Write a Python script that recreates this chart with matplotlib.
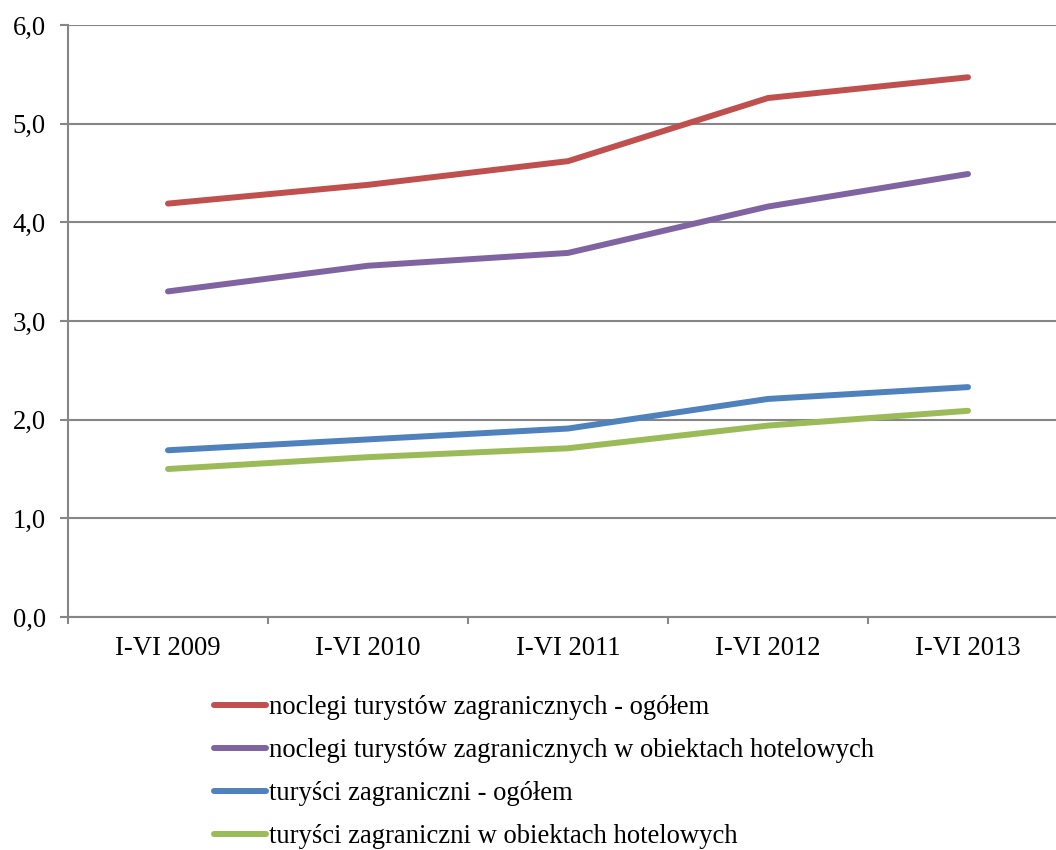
import matplotlib
matplotlib.use("Agg")
import matplotlib.pyplot as plt
from matplotlib.ticker import FixedLocator, FuncFormatter

categories = ["I-VI 2009", "I-VI 2010", "I-VI 2011", "I-VI 2012", "I-VI 2013"]
noclegi_ogolem = [4.19, 4.38, 4.62, 5.26, 5.47]
noclegi_hotelowe = [3.30, 3.56, 3.69, 4.16, 4.49]
turysci_ogolem = [1.69, 1.80, 1.91, 2.21, 2.33]
turysci_hotelowe = [1.50, 1.62, 1.71, 1.94, 2.09]
series_labels = [
    "noclegi turystów zagranicznych - ogółem",
    "noclegi turystów zagranicznych w obiektach hotelowych",
    "turyści zagraniczni - ogółem",
    "turyści zagraniczni w obiektach hotelowych",
]
colors = ["#C0504D", "#8064A2", "#4F81BD", "#9BBB59"]

plt.rcParams["font.family"] = ["Liberation Serif", "DejaVu Serif"]

W, H = 1056, 850
fig = plt.figure(figsize=(W / 100, H / 100), dpi=100)
ax = fig.add_axes([68 / W, 1 - 617 / H, 1000 / W, 592 / H])

grid_c = "#868686"
FS = 19.2
x = list(range(len(categories)))
for vals, lab, c in zip([noclegi_ogolem, noclegi_hotelowe, turysci_ogolem, turysci_hotelowe],
                        series_labels, colors):
    ax.plot(x, vals, color=c, lw=4.3, label=lab, solid_capstyle="round", zorder=3)

ax.set_xlim(-0.5, len(categories) - 0.5)
ax.set_ylim(0, 6)
ax.yaxis.set_major_locator(FixedLocator([0, 1, 2, 3, 4, 5, 6]))
ax.yaxis.set_major_formatter(FuncFormatter(lambda v, p: f"{v:.1f}".replace(".", ",")))
ax.yaxis.grid(True, color=grid_c, lw=1.5)
ax.set_axisbelow(True)

ax.xaxis.set_major_locator(FixedLocator([i - 0.5 for i in range(len(categories) + 1)]))
ax.xaxis.set_major_formatter(FuncFormatter(lambda v, p: ""))
ax.xaxis.set_minor_locator(FixedLocator(x))
ax.set_xticklabels(categories, minor=True)

for s in ["top", "right"]:
    ax.spines[s].set_visible(False)
for s in ["left", "bottom"]:
    ax.spines[s].set_color(grid_c)
    ax.spines[s].set_linewidth(1.5)

ax.tick_params(axis="y", which="major", length=6, width=1.5, color=grid_c, pad=10, labelsize=FS)
ax.tick_params(axis="x", which="major", length=5, width=1.5, color=grid_c, direction="out")
ax.tick_params(axis="x", which="minor", length=0, pad=14, labelsize=FS)

fig.legend(loc="upper left", bbox_to_anchor=(214 / W, 1 - 695 / H), frameon=False,
           fontsize=FS, handlelength=1.95, handletextpad=0.1, labelspacing=0.68,
           borderaxespad=0, borderpad=0)

fig.savefig("out.png", dpi=100)
